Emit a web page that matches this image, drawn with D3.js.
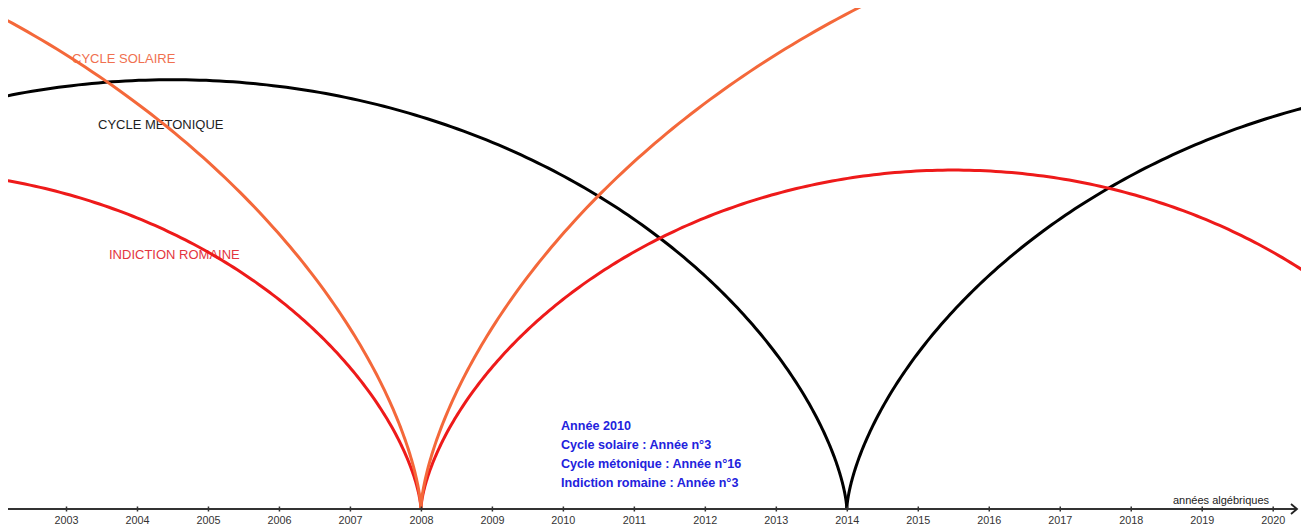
<!DOCTYPE html>
<html>
<head>
<meta charset="utf-8">
<script src="https://cdn.jsdelivr.net/npm/d3@7"></script>
<style>
  html, body { margin: 0; padding: 0; background: #fff; }
  svg { display: block; }
  text { font-family: "Liberation Sans", Arial, sans-serif; }
</style>
</head>
<body>
<svg id="chart" width="1301" height="528"></svg>
<script>
// ---- data ----
const cycleNames   = ["CYCLE METONIQUE", "INDICTION ROMAINE", "CYCLE SOLAIRE"];
const cyclePeriods = [19, 15, 28];          // length of each cycle (years)
const cycleStarts  = [2014, 2008, 2008];    // a year where each cycle begins
const cycleColors  = ["#000000", "#ee1a1a", "#f4683a"];
const labelColors  = ["#1e1e1e", "#e4343e", "#f07050"];
const tickYears    = [2003, 2004, 2005, 2006, 2007, 2008, 2009, 2010, 2011,
                      2012, 2013, 2014, 2015, 2016, 2017, 2018, 2019, 2020];
const axisTitle    = "années algébriques";
const infoLines    = ["Année 2010", "Cycle solaire : Année n°3",
                      "Cycle métonique : Année n°16", "Indiction romaine : Année n°3"];

// ---- layout ----
const W = 1301, H = 528;
const axisY = 509;
const x = d3.scaleLinear().domain([2003, 2020]).range([66, 1272.7]);
const pxPerYear = x(2004) - x(2003);
const y = d3.scaleLinear().domain([0, 1]).range([axisY, axisY - pxPerYear]);

const svg = d3.select("#chart");

svg.append("defs").append("clipPath").attr("id", "clip")
  .append("rect").attr("x", 8).attr("y", 8).attr("width", W - 8).attr("height", axisY - 8 + 2);

// labels (under the curves)
const labelPos = [[98, 129], [109, 259], [72, 63]];
cycleNames.forEach((n, i) => {
  svg.append("text")
    .attr("x", labelPos[i][0]).attr("y", labelPos[i][1])
    .attr("font-size", 13).attr("fill", labelColors[i])
    .text(n);
});

// cycloid arches: a circle of circumference = period rolls along the axis
const line = d3.line().x(d => x(d[0])).y(d => y(d[1]));
const gCurves = svg.append("g").attr("clip-path", "url(#clip)");
cyclePeriods.forEach((P, i) => {
  const r = P / (2 * Math.PI);
  for (let k = -3; k <= 3; k++) {
    const s = cycleStarts[i] + k * P;
    if (s + P < 1995 || s > 2025) continue;
    const pts = d3.range(0, 401).map(j => {
      const t = j / 400 * 2 * Math.PI;
      return [s + r * (t - Math.sin(t)), r * (1 - Math.cos(t))];
    });
    gCurves.append("path").datum(pts)
      .attr("d", line)
      .attr("fill", "none")
      .attr("stroke", cycleColors[i])
      .attr("stroke-width", 3)
      .attr("stroke-linejoin", "round");
  }
});

// axis
svg.append("line")
  .attr("x1", 8).attr("x2", 1297).attr("y1", axisY).attr("y2", axisY)
  .attr("stroke", "#333").attr("stroke-width", 1.8);
svg.append("path")
  .attr("d", `M1291,${axisY - 5} L1297,${axisY} L1291,${axisY + 5}`)
  .attr("fill", "none").attr("stroke", "#222").attr("stroke-width", 1.8);

const axis = d3.axisBottom(x).tickValues(tickYears).tickFormat(d3.format("d")).tickSize(3).tickPadding(4);
const gAxis = svg.append("g").attr("transform", `translate(0,${axisY})`).call(axis);
gAxis.select(".domain").remove();
gAxis.selectAll(".tick line").attr("y1", -2.5).attr("y2", 2.5).attr("stroke", "#333").attr("stroke-width", 1.5);
gAxis.selectAll(".tick text")
  .attr("font-family", "'Liberation Sans', Arial, sans-serif")
  .attr("font-size", 10.8).attr("fill", "#333");

svg.append("text")
  .attr("x", 1173).attr("y", 504)
  .attr("font-size", 11).attr("fill", "#222")
  .text(axisTitle);

// info block
infoLines.forEach((t, i) => {
  svg.append("text")
    .attr("x", 561).attr("y", 430 + i * 18.9)
    .attr("font-size", 12.6).attr("font-weight", "bold").attr("fill", "#2222dd")
    .text(t);
});
</script>
</body>
</html>
